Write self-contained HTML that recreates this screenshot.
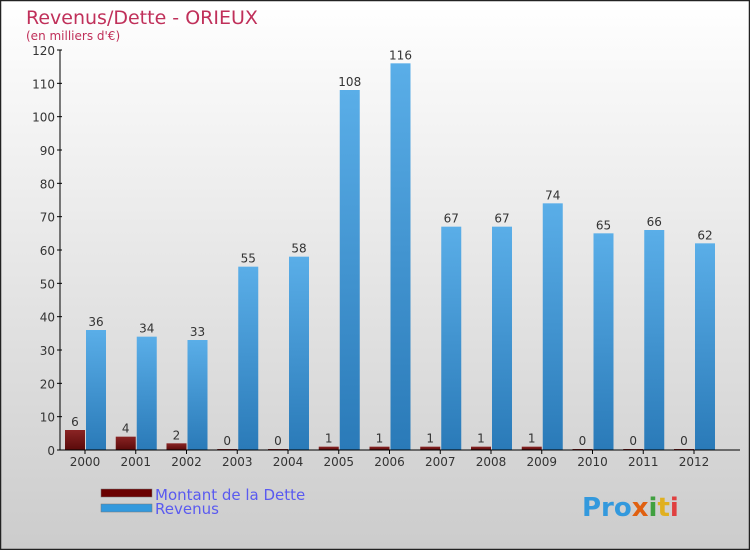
<!DOCTYPE html>
<html><head><meta charset="utf-8"><style>
body{margin:0}
#c{width:750px;height:550px;position:relative;font-family:"DejaVu Sans","Liberation Sans",sans-serif}
</style></head><body>
<div id="c">
<svg id="s" width="750" height="550" xmlns="http://www.w3.org/2000/svg">
<defs>
<linearGradient id="bg" x1="0" y1="0" x2="0" y2="1"><stop offset="0" stop-color="#ffffff"/><stop offset="1" stop-color="#cccccc"/></linearGradient>
<linearGradient id="gr" x1="0" y1="0" x2="0" y2="1"><stop offset="0" stop-color="#5aaee8"/><stop offset="1" stop-color="#2a7ab8"/></linearGradient>
<linearGradient id="gd" x1="0" y1="0" x2="0" y2="1"><stop offset="0" stop-color="#8a2424"/><stop offset="1" stop-color="#5a0a0a"/></linearGradient>
</defs>
<rect x="0.5" y="0.5" width="749" height="549" fill="url(#bg)" stroke="#222" stroke-width="1.5"/>
<text x="26" y="24" font-size="19" fill="#c0305a">Revenus/Dette - ORIEUX</text>
<text x="26" y="40" font-size="12" fill="#c0305a">(en milliers d'€)</text>
<g id="plot"></g>
<g>
<rect x="101" y="489" width="51" height="8" fill="#6a0000" stroke="#777" stroke-width="0.5"/>
<text x="155" y="500" font-size="15" fill="#5a5af0">Montant de la Dette</text>
<rect x="101" y="504" width="51" height="8" fill="#3399dd" stroke="#777" stroke-width="0.5"/>
<text x="155" y="514" font-size="15" fill="#5a5af0">Revenus</text>
</g>
<text x="582" y="516" font-size="26" font-weight="bold" fill="#3399dd">Pro<tspan fill="#e06010">x</tspan><tspan fill="#40a040">i</tspan><tspan fill="#e0b020">t</tspan><tspan fill="#e04040">i</tspan></text>
</svg>
</div>
<script>
const years=["2000","2001","2002","2003","2004","2005","2006","2007","2008","2009","2010","2011","2012"];
const dette=[6,4,2,0,0,1,1,1,1,1,0,0,0];
const revenus=[36,34,33,55,58,108,116,67,67,74,65,66,62];
const yTicks=[0,10,20,30,40,50,60,70,80,90,100,110,120];
const NS="http://www.w3.org/2000/svg";
const g=document.getElementById("plot");
const y0=450,yMax=120,ph=400;
function y(v){return y0-v/yMax*ph;}
function x(i){return 85+i*50.75;}
function el(t,a){const e=document.createElementNS(NS,t);for(const k in a)e.setAttribute(k,a[k]);g.appendChild(e);return e;}
yTicks.forEach(t=>{
  const l=el("line",{x1:57,x2:62,y1:y(t),y2:y(t),stroke:"#000"});
  
  
  const tx=el("text",{x:55,y:y(t)+5,"font-size":12,"text-anchor":"end",fill:"#333"});
  tx.textContent=t;
  
  
});
years.forEach((yr,i)=>{
  const cx=x(i);
  const hd=Math.max(y0-y(dette[i]),1);
  const b1=el("rect",{x:cx-20,y:y0-hd,width:20,height:hd,fill:"url(#gd)"});
  
  
  const t1=el("text",{x:cx-10,y:y0-hd-4,"font-size":12,"text-anchor":"middle",fill:"#333"});
  t1.textContent=dette[i];
  
  
  const b2=el("rect",{x:cx+1,y:y(revenus[i]),width:20,height:y0-y(revenus[i]),fill:"url(#gr)"});
  
  
  const t2=el("text",{x:cx+11,y:y(revenus[i])-4,"font-size":12,"text-anchor":"middle",fill:"#333"});
  t2.textContent=revenus[i];
  
  
  const tk=el("line",{x1:cx,x2:cx,y1:y0,y2:y0+4,stroke:"#000"});
  
  
  const xl=el("text",{x:cx,y:466,"font-size":12,"text-anchor":"middle",fill:"#333"});
  xl.textContent=yr;
  
  
});
const ya=el("line",{x1:60,x2:60,y1:y(120),y2:y0,stroke:"#000"});


const xa=el("line",{x1:60,x2:740,y1:y0,y2:y0,stroke:"#000"});


</script>
</body></html>
